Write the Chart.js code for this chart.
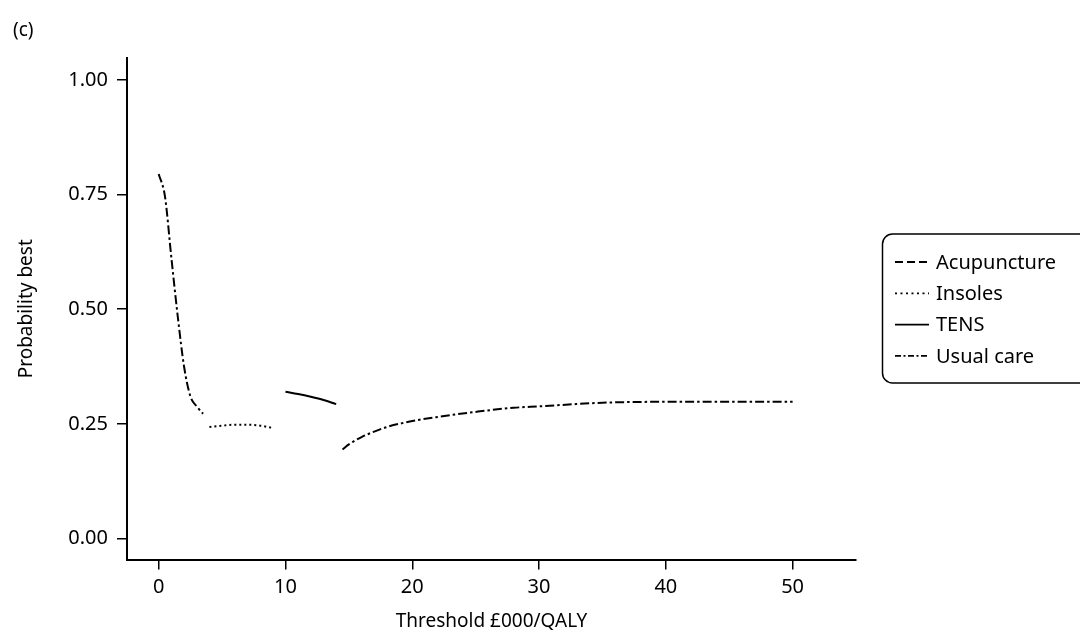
<!DOCTYPE html>
<html>
<head>
<meta charset="utf-8">
<script src="https://cdn.jsdelivr.net/npm/chart.js@4/dist/chart.umd.min.js"></script>
<style>
  html, body { margin: 0; padding: 0; background: #fff; }
  #wrap { width: 1080px; height: 633px; }
</style>
</head>
<body>
<div id="wrap"><canvas id="myChart" width="1080" height="633"></canvas></div>
<script>
// threshold in £000/QALY vs probability each option is best
const xTicks = [0, 10, 20, 30, 40, 50]
const yTicks = [0, 0.25, 0.5, 0.75, 1]

const usualX1 = [0, 0.5, 1, 1.5, 2, 2.5, 3, 3.5]
const usualY1 = [0.795, 0.745, 0.612, 0.485, 0.375, 0.31, 0.288, 0.272]
const usualX2 = [14.5, 15, 16, 17, 18, 20, 22, 25, 28, 30, 35, 40, 45, 50]
const usualY2 = [0.194, 0.205, 0.221, 0.233, 0.243, 0.256, 0.265, 0.276, 0.285, 0.288, 0.296, 0.298, 0.298, 0.298]

const insolesX = [4, 5, 6, 7, 8, 9]
const insolesY = [0.243, 0.246, 0.248, 0.248, 0.246, 0.241]

const tensX = [10, 11, 12, 13, 14]
const tensY = [0.32, 0.315, 0.309, 0.302, 0.293]

// acupuncture never comes out best, it only shows in the legend
const acuX = []
const acuY = []

const pts = (xs, ys) => xs.map((x, i) => ({ x, y: ys[i] }))

const font = "'Noto Sans', 'Open Sans', sans-serif"

// legend with line samples, in a rounded frame that runs off the right edge
const boxLegend = {
    id: 'boxLegend',
    afterDraw(chart) {
        const ctx = chart.ctx
        const sets = chart.data.datasets
        const left = 882.5, top = 234, step = 31.3
        const firstY = 262
        const bottom = firstY + step * (sets.length - 1) + 27
        ctx.save()
        ctx.strokeStyle = '#000'
        ctx.lineWidth = 1.5
        ctx.setLineDash([])
        ctx.beginPath()
        ctx.roundRect(left, top, chart.width + 20 - left, bottom - top, 10)
        ctx.stroke()

        ctx.font = `20px ${font}`
        ctx.fillStyle = '#000'
        ctx.textBaseline = 'middle'
        sets.forEach((ds, i) => {
            const y = firstY + i * step
            ctx.lineWidth = 1.8
            ctx.setLineDash(ds.legendDash)
            ctx.beginPath()
            ctx.moveTo(895, y)
            ctx.lineTo(929, y)
            ctx.stroke()
            ctx.setLineDash([])
            ctx.fillText(ds.label, 936, y + 1)
        })
        ctx.restore()
    }
}

const canvas = document.getElementById('myChart')
const common = { fill: false, pointRadius: 0, borderColor: '#000', borderWidth: 2, cubicInterpolationMode: 'monotone', spanGaps: false }

new Chart(canvas, {
    type: 'line',
    data: {
        datasets: [
            { ...common, label: 'Acupuncture', data: pts(acuX, acuY), borderDash: [8, 4], legendDash: [8, 4] },
            { ...common, label: 'Insoles', data: pts(insolesX, insolesY), borderDash: [2, 3], legendDash: [2, 3.5] },
            { ...common, label: 'TENS', data: pts(tensX, tensY), borderDash: [], legendDash: [] },
            { ...common, label: 'Usual care', data: [...pts(usualX1, usualY1), { x: 9, y: null }, ...pts(usualX2, usualY2)],
              borderDash: [9, 3, 2.5, 3], legendDash: [6, 2.5, 2, 2.5] }
        ]
    },
    options: {
        responsive: false,
        animation: false,
        layout: { padding: { left: 13, right: 224, top: 0, bottom: 0 } },
        plugins: {
            title: {
                display: true, text: '(c)', align: 'start', color: '#000',
                font: { family: font, size: 19, weight: 'normal' },
                padding: { top: 19.6, bottom: 15.6 }
            },
            legend: { display: false },
            tooltip: { enabled: false }
        },
        scales: {
            x: {
                type: 'linear', min: -2.5, max: 55,
                afterBuildTicks: axis => { axis.ticks = xTicks.map(v => ({ value: v })) },
                afterFit: axis => { axis.height = 73.5 },
                grid: { drawOnChartArea: false, drawTicks: true, tickLength: 10, color: '#000', lineWidth: 1.5 },
                border: { display: true, color: '#000', width: 2 },
                ticks: { color: '#000', font: { family: font, size: 20 }, padding: 6 },
                title: { display: true, text: 'Threshold £000/QALY', color: '#000', font: { family: font, size: 19 }, padding: { top: 0, bottom: 0 } }
            },
            y: {
                type: 'linear', min: -0.046, max: 1.048,
                afterBuildTicks: axis => { axis.ticks = yTicks.map(v => ({ value: v })) },
                afterFit: axis => { axis.width = 114 },
                grid: { drawOnChartArea: false, drawTicks: true, tickLength: 10, color: '#000', lineWidth: 1.5 },
                border: { display: true, color: '#000', width: 2 },
                ticks: { color: '#000', font: { family: font, size: 20 }, padding: 9, callback: v => v.toFixed(2) },
                title: { display: true, text: 'Probability best', color: '#000', font: { family: font, size: 19 }, padding: { top: 2, bottom: 0 } }
            }
        }
    },
    plugins: [boxLegend]
})
</script>
</body>
</html>
